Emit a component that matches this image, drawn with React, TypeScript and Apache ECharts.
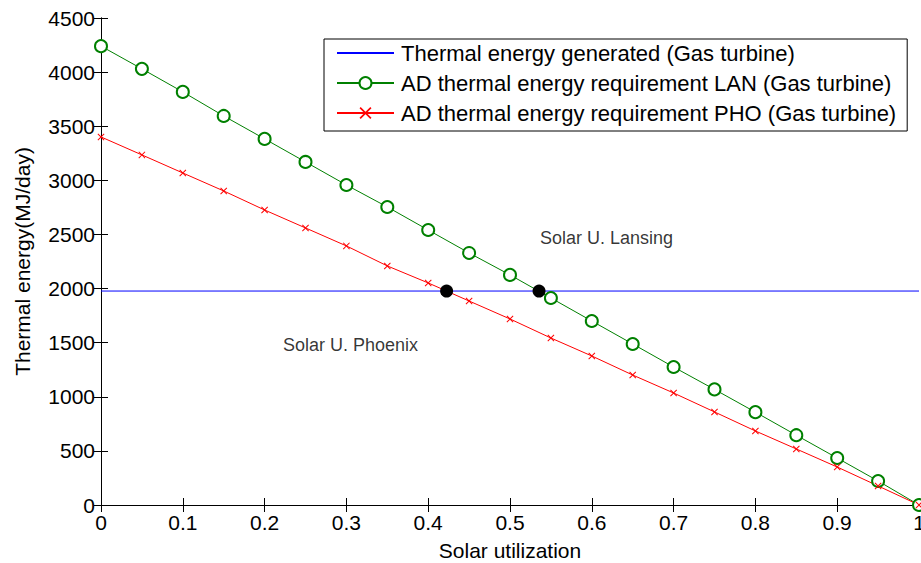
import React, { useEffect, useRef } from "react";
import * as echarts from "echarts";

const solarUtil = [0, 0.05, 0.1, 0.15, 0.2, 0.25, 0.3, 0.35, 0.4, 0.45, 0.5, 0.55, 0.6, 0.65, 0.7, 0.75, 0.8, 0.85, 0.9, 0.95, 1.0];
const lanRequirement = [4240, 4030, 3817, 3595, 3383, 3170, 2957, 2754, 2541, 2329, 2126, 1913, 1700, 1488, 1275, 1068, 858, 645, 434, 222, 0];
const phoRequirement = [3401, 3235, 3068, 2902, 2726, 2560, 2394, 2209, 2052, 1885, 1719, 1543, 1377, 1201, 1035, 860, 684, 518, 351, 176, 0];
const generatedX = [0, 1];
const generatedY = [1977, 1977];
const intersections = [[0.4225, 1977], [0.5355, 1977]];
const annotations = [
  { name: "Solar U. Lansing", x: 0.5367, y: 2467 },
  { name: "Solar U. Phoenix", x: 0.2225, y: 1478 },
];
const seriesNames = [
  "Thermal energy generated (Gas turbine)",
  "AD thermal energy requirement LAN (Gas turbine)",
  "AD thermal energy requirement PHO (Gas turbine)",
];

const FONT = "Arial, 'Liberation Sans', sans-serif";
const crossPath = "path://M0,1 L1,0 L5,4 L9,0 L10,1 L6,5 L10,9 L9,10 L5,6 L1,10 L0,9 L4,5 Z";

export default function App() {
  const ref = useRef<HTMLDivElement>(null);
  useEffect(() => {
    if (!ref.current) return;
    const chart = echarts.init(ref.current, undefined, { renderer: "svg" });
    const axisCommon = {
      axisLine: { show: true, lineStyle: { color: "#000", width: 1 } },
      axisTick: { show: true, inside: true, length: 7, lineStyle: { color: "#000" } },
      splitLine: { show: false },
    };
    chart.setOption({
      animation: false,
      backgroundColor: "#fff",
      grid: { left: 101, top: 18, right: 2, bottom: 58, containLabel: false, outerBoundsMode: "none" },
      legend: {
        show: true,
        orient: "vertical",
        left: 324,
        top: 39,
        data: [
          { name: seriesNames[0], itemStyle: { opacity: 0 } },
          { name: seriesNames[1] },
          { name: seriesNames[2] },
        ],
        backgroundColor: "#fff",
        borderColor: "#000",
        borderWidth: 1,
        borderRadius: 0,
        padding: [3, 11, 7, 12],
        itemWidth: 57,
        itemHeight: 15,
        itemGap: 8,
        selectedMode: false,
        textStyle: { fontFamily: FONT, fontSize: 22, color: "#000", padding: [0, 0, 0, 2] },
      },
      xAxis: [
        {
          type: "value",
          min: 0,
          max: 1,
          interval: 0.1,
          name: "Solar utilization",
          nameLocation: "middle",
          nameGap: 35,
          nameTextStyle: { fontFamily: FONT, fontSize: 21, color: "#000" },
          axisLabel: { fontFamily: FONT, fontSize: 21, color: "#000", margin: 7 },
          ...axisCommon,
        },
        {
          type: "value",
          position: "top",
          min: 0,
          max: 1,
          interval: 0.1,
          axisLabel: { show: false },
          ...axisCommon,
        },
      ],
      yAxis: [
        {
          type: "value",
          min: 0,
          max: 4500,
          interval: 500,
          name: "Thermal energy(MJ/day)",
          nameLocation: "middle",
          nameGap: 68,
          nameTextStyle: { fontFamily: FONT, fontSize: 21, color: "#000" },
          axisLabel: {
            fontFamily: FONT,
            fontSize: 21,
            color: "#000",
            margin: 6,
            formatter: (v: number) => String(v),
          },
          ...axisCommon,
        },
        {
          type: "value",
          position: "right",
          min: 0,
          max: 4500,
          interval: 500,
          axisLabel: { show: false },
          ...axisCommon,
        },
      ],
      series: [
        {
          name: seriesNames[0],
          type: "line",
          data: generatedX.map((x, i) => [x, generatedY[i]]),
          symbol: "none",
          lineStyle: { color: "#0000ff", width: 1 },
          itemStyle: { color: "#0000ff" },
          silent: true,
          z: 2,
        },
        {
          name: seriesNames[1],
          type: "line",
          data: solarUtil.map((x, i) => [x, lanRequirement[i]]),
          symbol: "emptyCircle",
          symbolSize: 12,
          showAllSymbol: true,
          lineStyle: { color: "#008000", width: 1 },
          itemStyle: { color: "#008000", borderColor: "#008000", borderWidth: 1 },
          silent: true,
          z: 3,
        },
        {
          name: seriesNames[2],
          type: "line",
          data: solarUtil.map((x, i) => [x, phoRequirement[i]]),
          symbol: crossPath,
          symbolSize: 7,
          showAllSymbol: true,
          lineStyle: { color: "#ff0000", width: 1 },
          itemStyle: { color: "#ff0000" },
          silent: true,
          z: 3,
        },
        {
          name: "intersections",
          type: "scatter",
          data: intersections,
          symbol: "circle",
          symbolSize: 13,
          itemStyle: { color: "#000", opacity: 1 },
          silent: true,
          z: 5,
        },
        {
          name: "annotations",
          type: "scatter",
          data: annotations.map((a) => ({ value: [a.x, a.y], name: a.name })),
          symbolSize: 0,
          itemStyle: { color: "transparent" },
          label: {
            show: true,
            position: "right",
            distance: 0,
            formatter: (p: any) => p.name,
            fontFamily: FONT,
            fontSize: 18,
            color: "#000",
          },
          silent: true,
          z: 4,
        },
      ],
    });
    return () => chart.dispose();
  }, []);
  return (
    <div
      ref={ref}
      style={{ position: "absolute", left: 0, top: 0, width: 921, height: 563, background: "#fff" }}
    />
  );
}
